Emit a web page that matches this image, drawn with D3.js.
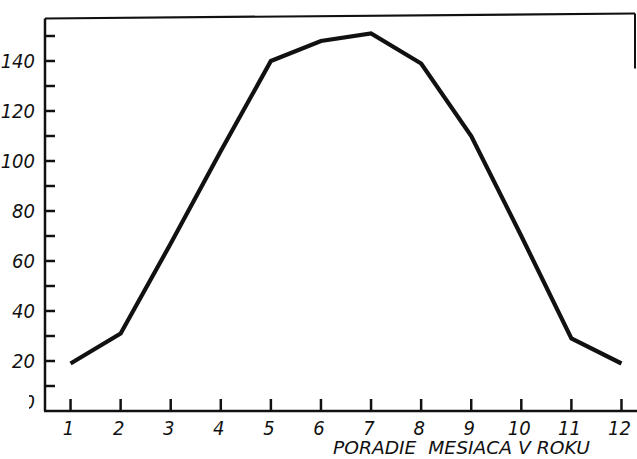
<!DOCTYPE html>
<html>
<head>
<meta charset="utf-8">
<script src="https://cdn.jsdelivr.net/npm/d3@7"></script>
<style>
  body { margin: 0; background: #fff; }
  svg text { font-family: "DejaVu Sans Condensed", "DejaVu Sans", sans-serif; font-style: italic; fill: #111; }
</style>
</head>
<body>
<svg id="chart" width="637" height="459"></svg>
<script>

// values
var months = [1, 2, 3, 4, 5, 6, 7, 8, 9, 10, 11, 12];
var values = [19, 31, 67, 104, 140, 148, 151, 139, 110, 70, 29, 19];
var yLabels = [0, 20, 40, 60, 80, 100, 120, 140];
var yMinor = [10, 30, 50, 70, 90, 110, 130, 150];
var xTitle = 'PORADIE  MESIACA V ROKU';

var width = 637;
var height = 459;

var x = d3.scaleLinear().domain([0.49, 12.27]).range([45, 635]);
var y = d3.scaleLinear().domain([0, 157]).range([411, 18.5]);

var svg = d3.select('#chart');
var ink = '#111';

// frame: left axis, bottom axis, top edge and the short right edge
svg.append('line')
    .attr('x1', x(0.49)).attr('y1', y(157)).attr('x2', x(0.49)).attr('y2', y(0))
    .attr('stroke', ink).attr('stroke-width', 2.5);
svg.append('line')
    .attr('x1', x(0.49) - 1).attr('y1', y(0)).attr('x2', width).attr('y2', y(0))
    .attr('stroke', ink).attr('stroke-width', 2.5);
svg.append('line')
    .attr('x1', x(0.49)).attr('y1', y(157)).attr('x2', x(12.27)).attr('y2', y(159))
    .attr('stroke', ink).attr('stroke-width', 2.2);
svg.append('line')
    .attr('x1', x(12.27)).attr('y1', y(159)).attr('x2', x(12.27)).attr('y2', y(137))
    .attr('stroke', ink).attr('stroke-width', 2);

// y ticks (major with labels, minor without)
svg.append('g').selectAll('line')
    .data(yLabels.filter(function(d){ return d > 0; }).concat(yMinor))
    .enter()
    .append('line')
    .attr('x1', x(0.49)).attr('x2', x(0.49) + 10)
    .attr('y1', function(d){ return y(d); })
    .attr('y2', function(d){ return y(d); })
    .attr('stroke', ink).attr('stroke-width', 2.5);

svg.append('clipPath').attr('id', 'zeroClip')
    .append('rect').attr('x', 29).attr('y', 380).attr('width', 20).attr('height', 40);

svg.append('g').selectAll('text')
    .data(yLabels)
    .enter()
    .append('text')
    .attr('x', 35)
    .attr('y', function(d){ return d === 0 ? y(d) - 9 : y(d); })
    .attr('dy', '0.36em')
    .attr('text-anchor', 'end')
    .attr('font-size', 20)
    .attr('clip-path', function(d){ return d === 0 ? 'url(#zeroClip)' : null; })
    .text(function(d){ return d; });

// x ticks pointing up from the axis
svg.append('g').selectAll('line')
    .data(months)
    .enter()
    .append('line')
    .attr('x1', function(d){ return x(d); })
    .attr('x2', function(d){ return x(d); })
    .attr('y1', y(0)).attr('y2', y(0) - 12)
    .attr('stroke', ink).attr('stroke-width', 2.5);

svg.append('g').selectAll('text')
    .data(months)
    .enter()
    .append('text')
    .attr('x', function(d){ return x(d) - 2; })
    .attr('y', 435)
    .attr('text-anchor', 'middle')
    .attr('font-size', 20)
    .text(function(d){ return d; });

svg.append('text')
    .attr('x', 333)
    .attr('y', 454)
    .attr('font-size', 17)
    .attr('textLength', 257)
    .attr('lengthAdjust', 'spacingAndGlyphs')
    .style('white-space', 'pre')
    .text(xTitle);

// the curve
var line = d3.line()
    .x(function(d, i){ return x(months[i]); })
    .y(function(d){ return y(d); });

svg.append('path')
    .datum(values)
    .attr('d', line)
    .attr('fill', 'none')
    .attr('stroke', ink)
    .attr('stroke-width', 4.2)
    .attr('stroke-linejoin', 'miter');

</script>
</body>
</html>
